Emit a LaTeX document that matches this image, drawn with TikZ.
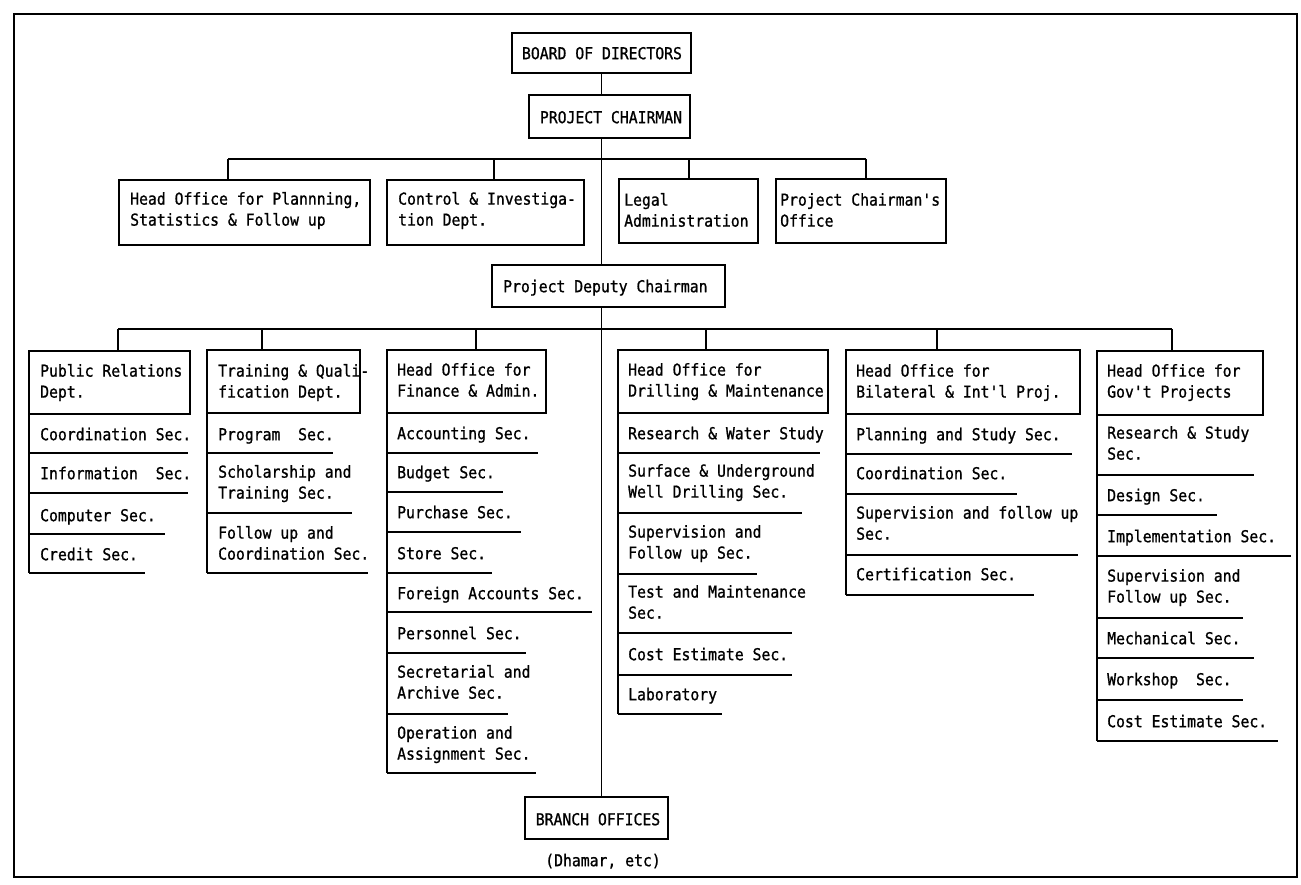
\documentclass[tikz,border=0pt]{standalone}
\usepackage{fontspec}
\setmonofont{DejaVu Sans Mono}[FakeStretch=0.9, FakeBold=1]
\usetikzlibrary{fit}
\tikzset{
  frameline/.style={line width=1.6pt},
  bx/.style={draw, line width=1.1pt, inner sep=0pt},
  tx/.style={align=left, inner sep=0pt, anchor=west,
    execute at begin node=\strut, execute at end node=\strut},
  ctx/.style={inner sep=0pt, execute at begin node=\strut},
  sepline/.style={line width=1.1pt},
  conn/.style={line width=1.2pt},
}
\begin{document}
\begin{tikzpicture}[x=1pt,y=-1pt,font=\ttfamily\fontsize{16.4}{21}\selectfont]
\useasboundingbox (0,0) rectangle (1301,884);
\draw[frameline] (14,14) rectangle (1297,877);

% ---- top ----
\node[bx, fit={(512,33) (691,73)}] (board) {};
\node[ctx] (boardT) at (602,55) {BOARD OF DIRECTORS};
\node[bx, fit={(529,95) (690,138)}] (chair) {};
\node[ctx] (chairT) at (611,119) {PROJECT CHAIRMAN};

% ---- level 1 ----
\node[bx, fit={(119,180) (370,245)}] (plan) {};
\node[tx] (planT) at (130,212) {Head Office for Plannning,\\Statistics \& Follow up};
\node[bx, fit={(387,180) (584,245)}] (ctrl) {};
\node[tx] (ctrlT) at (398,212) {Control \& Investiga-\\tion Dept.};
\node[bx, fit={(619,179) (758,243)}] (legal) {};
\node[tx] (legalT) at (624,213) {Legal\\Administration};
\node[bx, fit={(776,179) (946,243)}] (office) {};
\node[tx] (officeT) at (780,213) {Project Chairman's\\Office};

\node[bx, fit={(492,265) (725,307)}] (dep) {};
\node[tx] (depT) at (503,288) {Project Deputy Chairman};

% ---- column heads ----
\node[bx, fit={(29,351) (190,414)}] (pr) {};
\node[tx] (prT) at (40,384) {Public Relations\\Dept.};
\node[bx, fit={(207,350) (360,413)}] (tr) {};
\node[tx] (trT) at (218,384) {Training \& Quali-\\fication Dept.};
\node[bx, fit={(387,350) (546,413)}] (fin) {};
\node[tx] (finT) at (397,383) {Head Office for\\Finance \& Admin.};
\node[bx, fit={(618,350) (828,413)}] (dri) {};
\node[tx] (driT) at (628,383) {Head Office for\\Drilling \& Maintenance};
\node[bx, fit={(846,350) (1080,414)}] (bil) {};
\node[tx] (bilT) at (856,384) {Head Office for\\Bilateral \& Int'l Proj.};
\node[bx, fit={(1097,351) (1263,415)}] (gov) {};
\node[tx] (govT) at (1107,384) {Head Office for\\Gov't Projects};

% ---- Public Relations sections ----
\node[tx] (pr1) at (40,436) {Coordination Sec.};
\node[tx] (pr2) at (40,475) {Information\ \ Sec.};
\node[tx] (pr3) at (40,517) {Computer Sec.};
\node[tx] (pr4) at (40,556) {Credit Sec.};
\draw[sepline] (29,414) -- (29,573);
\draw[sepline] (29,453) -- (188,453);
\draw[sepline] (29,493) -- (188,493);
\draw[sepline] (29,534) -- (165,534);
\draw[sepline] (29,573) -- (145,573);

% ---- Training sections ----
\node[tx] (tr1) at (218,436) {Program\ \ Sec.};
\node[tx] (tr2) at (218,485) {Scholarship and\\Training Sec.};
\node[tx] (tr3) at (218,546) {Follow up and\\Coordination Sec.};
\draw[sepline] (207,413) -- (207,573);
\draw[sepline] (207,453) -- (333,453);
\draw[sepline] (207,513) -- (352,513);
\draw[sepline] (207,573) -- (368,573);

% ---- Finance sections ----
\node[tx] (fi1) at (397,435) {Accounting Sec.};
\node[tx] (fi2) at (397,474) {Budget Sec.};
\node[tx] (fi3) at (397,514) {Purchase Sec.};
\node[tx] (fi4) at (397,555) {Store Sec.};
\node[tx] (fi5) at (397,595) {Foreign Accounts Sec.};
\node[tx] (fi6) at (397,635) {Personnel Sec.};
\node[tx] (fi7) at (397,685) {Secretarial and\\Archive Sec.};
\node[tx] (fi8) at (397,746) {Operation and\\Assignment Sec.};
\draw[sepline] (387,413) -- (387,773);
\draw[sepline] (387,453) -- (538,453);
\draw[sepline] (387,492) -- (503,492);
\draw[sepline] (387,532) -- (521,532);
\draw[sepline] (387,573) -- (492,573);
\draw[sepline] (387,612) -- (592,612);
\draw[sepline] (387,653) -- (526,653);
\draw[sepline] (387,714) -- (508,714);
\draw[sepline] (387,773) -- (536,773);

% ---- Drilling sections ----
\node[tx] (dr1) at (628,435) {Research \& Water Study};
\node[tx] (dr2) at (628,484) {Surface \& Underground\\Well Drilling Sec.};
\node[tx] (dr3) at (628,545) {Supervision and\\Follow up Sec.};
\node[tx] (dr4) at (628,605) {Test and Maintenance\\Sec.};
\node[tx] (dr5) at (628,656) {Cost Estimate Sec.};
\node[tx] (dr6) at (628,696) {Laboratory};
\draw[sepline] (618,413) -- (618,714);
\draw[sepline] (618,453) -- (820,453);
\draw[sepline] (618,513) -- (802,513);
\draw[sepline] (618,574) -- (757,574);
\draw[sepline] (618,633) -- (792,633);
\draw[sepline] (618,675) -- (792,675);
\draw[sepline] (618,714) -- (722,714);

% ---- Bilateral sections ----
\node[tx] (bi1) at (856,436) {Planning and Study Sec.};
\node[tx] (bi2) at (856,475) {Coordination Sec.};
\node[tx] (bi3) at (856,526) {Supervision and follow up\\Sec.};
\node[tx] (bi4) at (856,576) {Certification Sec.};
\draw[sepline] (846,414) -- (846,595);
\draw[sepline] (846,454) -- (1072,454);
\draw[sepline] (846,494) -- (1017,494);
\draw[sepline] (846,555) -- (1078,555);
\draw[sepline] (846,595) -- (1034,595);

% ---- Gov't sections ----
\node[tx] (go1) at (1107,446) {Research \& Study\\Sec.};
\node[tx] (go2) at (1107,497) {Design Sec.};
\node[tx] (go3) at (1107,538) {Implementation Sec.};
\node[tx] (go4) at (1107,589) {Supervision and\\Follow up Sec.};
\node[tx] (go5) at (1107,640) {Mechanical Sec.};
\node[tx] (go6) at (1107,681) {Workshop\ \ Sec.};
\node[tx] (go7) at (1107,723) {Cost Estimate Sec.};
\draw[sepline] (1097,415) -- (1097,741);
\draw[sepline] (1097,475) -- (1254,475);
\draw[sepline] (1097,515) -- (1217,515);
\draw[sepline] (1097,556) -- (1291,556);
\draw[sepline] (1097,618) -- (1243,618);
\draw[sepline] (1097,658) -- (1254,658);
\draw[sepline] (1097,700) -- (1243,700);
\draw[sepline] (1097,741) -- (1278,741);

% ---- bottom ----
\node[bx, fit={(525,797) (668,839)}] (branch) {};
\node[ctx] (branchT) at (598,821) {BRANCH OFFICES};
\node[ctx] (dham) at (603,862) {(Dhamar, etc)};

% ---- connectors ----
\draw[conn] (board.south) -- (board.south |- chair.north);
\draw[conn] (board.south |- chair.south) -- (board.south |- dep.north);
\draw[conn] (board.south |- dep.south) -- (board.south |- branch.north);

\coordinate (a1) at (228,159);
\coordinate (a2) at (494,159);
\coordinate (a3) at (689,159);
\coordinate (a4) at (866,159);
\draw[conn] (a1) -- (a4);
\draw[conn] (a1) -- (a1 |- plan.north);
\draw[conn] (a2) -- (a2 |- ctrl.north);
\draw[conn] (a3) -- (a3 |- legal.north);
\draw[conn] (a4) -- (a4 |- office.north);

\coordinate (b1) at (118,329);
\coordinate (b2) at (262,329);
\coordinate (b3) at (476,329);
\coordinate (b4) at (706,329);
\coordinate (b5) at (937,329);
\coordinate (b6) at (1172,329);
\draw[conn] (b1) -- (b6);
\draw[conn] (b1) -- (b1 |- pr.north);
\draw[conn] (b2) -- (b2 |- tr.north);
\draw[conn] (b3) -- (b3 |- fin.north);
\draw[conn] (b4) -- (b4 |- dri.north);
\draw[conn] (b5) -- (b5 |- bil.north);
\draw[conn] (b6) -- (b6 |- gov.north);
\end{tikzpicture}
\end{document}
